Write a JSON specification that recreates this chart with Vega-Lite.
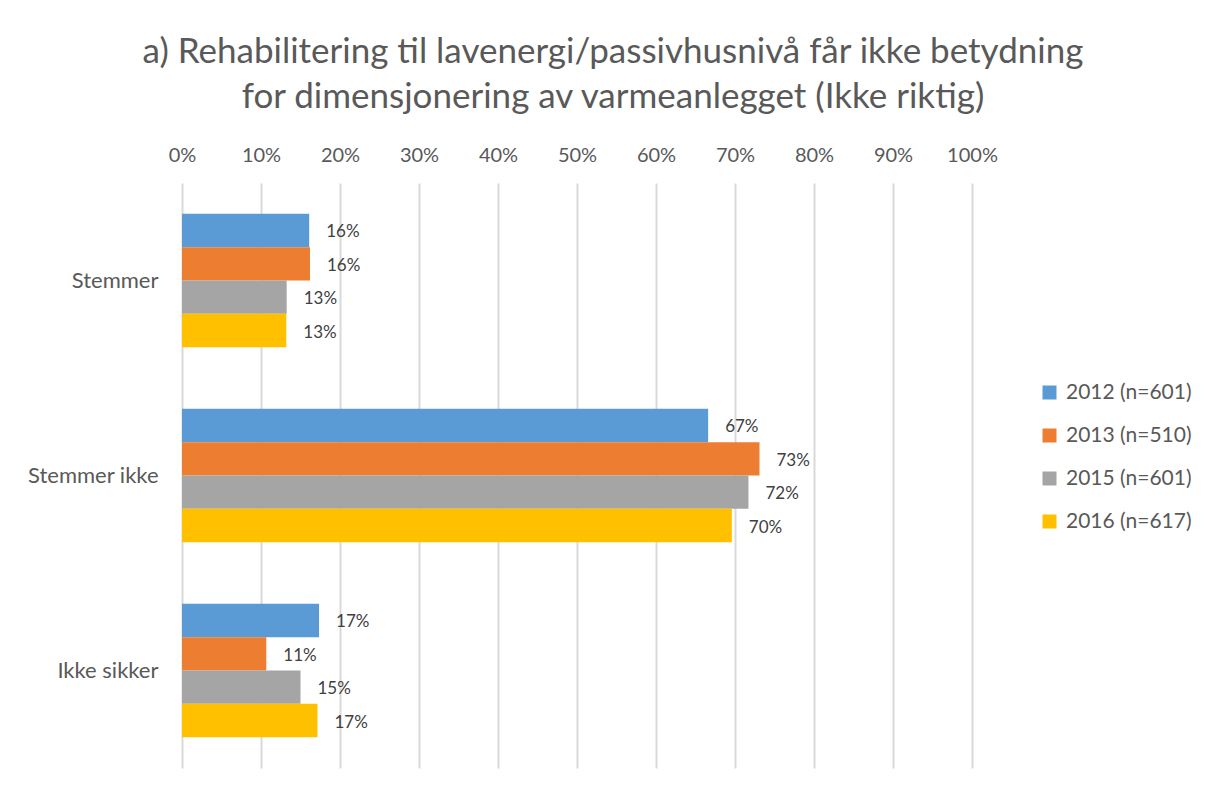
{
  "$schema": "https://vega.github.io/schema/vega-lite/v6.json",
  "width": 790,
  "height": 585,
  "autosize": {"type": "none"},
  "padding": {"left": 182, "top": 183, "right": 234, "bottom": 23},
  "background": "white",
  "title": {
    "text": ["a) Rehabilitering til lavenergi/passivhusnivå får ikke betydning", "for dimensjonering av varmeanlegget (Ikke riktig)"],
    "font": "Lato",
    "fontSize": 35,
    "fontWeight": "normal",
    "color": "#595959",
    "lineHeight": 45,
    "anchor": "middle",
    "dx": 36,
    "offset": 30
  },
  "data": {
    "values": [
      {"kat": "Stemmer", "aar": "2012 (n=601)", "verdi": 0.161},
      {"kat": "Stemmer", "aar": "2013 (n=510)", "verdi": 0.162},
      {"kat": "Stemmer", "aar": "2015 (n=601)", "verdi": 0.1325},
      {"kat": "Stemmer", "aar": "2016 (n=617)", "verdi": 0.132},
      {"kat": "Stemmer ikke", "aar": "2012 (n=601)", "verdi": 0.666},
      {"kat": "Stemmer ikke", "aar": "2013 (n=510)", "verdi": 0.731},
      {"kat": "Stemmer ikke", "aar": "2015 (n=601)", "verdi": 0.717},
      {"kat": "Stemmer ikke", "aar": "2016 (n=617)", "verdi": 0.696},
      {"kat": "Ikke sikker", "aar": "2012 (n=601)", "verdi": 0.1735},
      {"kat": "Ikke sikker", "aar": "2013 (n=510)", "verdi": 0.1067},
      {"kat": "Ikke sikker", "aar": "2015 (n=601)", "verdi": 0.15},
      {"kat": "Ikke sikker", "aar": "2016 (n=617)", "verdi": 0.1715}
    ]
  },
  "encoding": {
    "y": {
      "field": "kat",
      "type": "nominal",
      "sort": ["Stemmer", "Stemmer ikke", "Ikke sikker"],
      "scale": {"paddingInner": 0.316, "paddingOuter": 0.158},
      "axis": {
        "title": null,
        "domain": false,
        "ticks": false,
        "labelPadding": 24,
        "labelFont": "Lato",
        "labelFontSize": 22,
        "labelColor": "#595959"
      }
    },
    "yOffset": {
      "field": "aar",
      "type": "nominal",
      "sort": ["2012 (n=601)", "2013 (n=510)", "2015 (n=601)", "2016 (n=617)"]
    },
    "x": {
      "field": "verdi",
      "type": "quantitative",
      "scale": {"domain": [0, 1], "nice": false},
      "axis": {
        "orient": "top",
        "title": null,
        "format": ".0%",
        "values": [0, 0.1, 0.2, 0.3, 0.4, 0.5, 0.6, 0.7, 0.8, 0.9, 1],
        "domain": false,
        "ticks": false,
        "labelFlush": false,
        "labelBound": false,
        "labelOverlap": false,
        "labelPadding": 18,
        "labelFont": "Lato",
        "labelFontSize": 20,
        "labelColor": "#595959",
        "grid": true,
        "gridColor": "#D9D9D9",
        "gridWidth": 2
      }
    }
  },
  "layer": [
    {
      "mark": {"type": "bar"},
      "encoding": {
        "color": {
          "field": "aar",
          "type": "nominal",
          "sort": ["2012 (n=601)", "2013 (n=510)", "2015 (n=601)", "2016 (n=617)"],
          "scale": {"range": ["#5B9BD5", "#ED7D31", "#A5A5A5", "#FFC000"]},
          "legend": {
            "title": null,
            "orient": "none",
            "legendX": 857,
            "legendY": 199,
            "symbolType": "square",
            "symbolSize": 196,
            "symbolStrokeWidth": 0,
            "labelFont": "Lato",
            "labelFontSize": 21,
            "labelColor": "#595959",
            "labelOffset": 6,
            "rowPadding": 21
          }
        }
      }
    },
    {
      "mark": {"type": "text", "align": "left", "baseline": "middle", "dx": 17, "dy": 2, "font": "Lato", "fontSize": 17, "color": "#404040"},
      "encoding": {
        "text": {"field": "verdi", "type": "quantitative", "format": ".0%"}
      }
    }
  ],
  "config": {
    "view": {"stroke": null}
  }
}
